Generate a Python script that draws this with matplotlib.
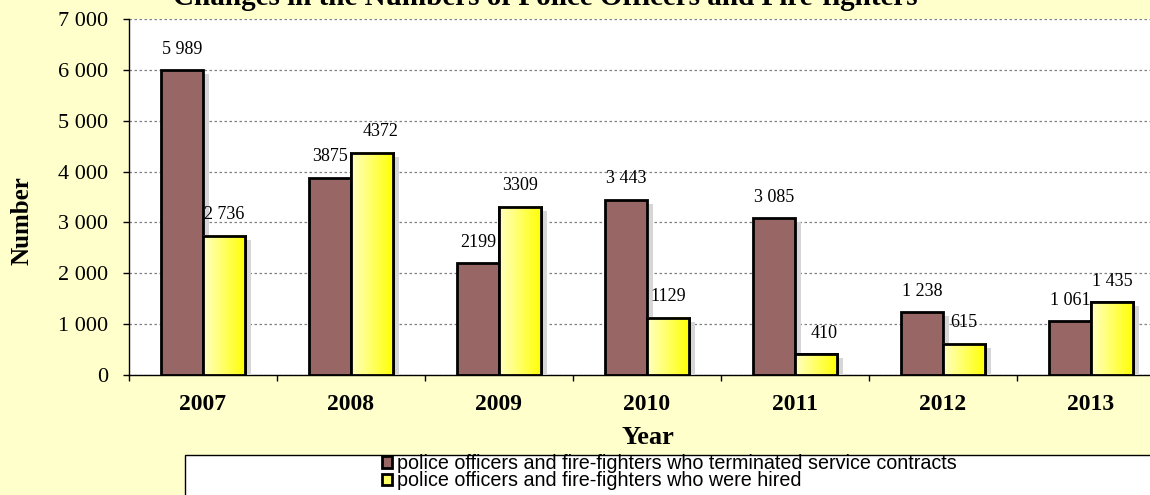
import matplotlib
matplotlib.use('Agg')
import matplotlib.pyplot as plt
import matplotlib.patheffects as pe
from matplotlib.patches import Rectangle, Patch
from matplotlib.colors import LinearSegmentedColormap
import numpy as np

# data
years = ['2007', '2008', '2009', '2010', '2011', '2012', '2013']
terminated = [5989, 3875, 2199, 3443, 3085, 1238, 1061]
hired = [2736, 4372, 3309, 1129, 410, 615, 1435]
terminated_labels = ['5 989', '3875', '2199', '3 443', '3 085', '1 238', '1 061']
hired_labels = ['2 736', '4372', '3309', '1129', '410', '615', '1 435']
series_names = ['police officers and fire-fighters who terminated service contracts',
                'police officers and fire-fighters who were hired']
y_ticks = [0, 1000, 2000, 3000, 4000, 5000, 6000, 7000]
y_tick_labels = ['0', '1 000', '2 000', '3 000', '4 000', '5 000', '6 000', '7 000']
title = 'Changes in the Numbers of Police Officers and Fire-fighters'

# a few labels sit a little right of their bar in the original
hired_dx = [0, 9, 0, 0, 8, 0, 0]

brown = '#996666'
bg = '#ffffcc'

plt.rcParams['font.family'] = ['Liberation Serif', 'DejaVu Serif']

W, H = 1150, 495
fig = plt.figure(figsize=(W / 100, H / 100), dpi=100, facecolor=bg)
ax = fig.add_axes([129 / W, 120 / H, 1036 / W, 356 / H])
ax.set_facecolor('white')

x = np.arange(len(years))
w = 0.284
shadow = [pe.SimplePatchShadow(offset=(4.3, -2.9), shadow_rgbFace='#d6d6d6', alpha=1.0),
          pe.Normal()]

b1 = ax.bar(x - w / 2, terminated, w, color=brown, edgecolor='black',
            linewidth=2, zorder=3, path_effects=shadow)
b2 = ax.bar(x + w / 2, hired, w, color='#ffff00', edgecolor='black',
            linewidth=2, zorder=3, path_effects=shadow)

# yellow bars have a left-to-right gradient
grad = np.linspace(0, 1, 256).reshape(1, -1)
ycmap = LinearSegmentedColormap.from_list('yel', ['#ffffc4', '#ffff00'])
for bar in b2:
    x0 = bar.get_x()
    ax.imshow(grad, cmap=ycmap, aspect='auto', zorder=3.5,
              extent=[x0, x0 + bar.get_width(), 0, bar.get_height()])
ax.bar(x + w / 2, hired, w, fill=False, edgecolor='black', linewidth=2, zorder=4)

# value labels
for bar, lbl in zip(b1, terminated_labels):
    ax.annotate(lbl, (bar.get_x() + bar.get_width() / 2, bar.get_height()),
                xytext=(0, 21), textcoords='offset pixels',
                ha='center', va='center', fontsize=13, zorder=5)
for bar, lbl, dx in zip(b2, hired_labels, hired_dx):
    ax.annotate(lbl, (bar.get_x() + bar.get_width() / 2, bar.get_height()),
                xytext=(dx, 21), textcoords='offset pixels',
                ha='center', va='center', fontsize=13, zorder=5)

ax.set_xlim(-0.5, len(years) - 0.5)
ax.set_ylim(0, 7000)

# axes cosmetics
ax.set_axisbelow(True)
ax.yaxis.grid(True, linestyle=(0, (2, 2)), color='#808080', linewidth=0.9)
for s in ['top', 'right']:
    ax.spines[s].set_visible(False)
for s in ['left', 'bottom']:
    ax.spines[s].set_color('black')
    ax.spines[s].set_linewidth(1)

ax.set_yticks(y_ticks, y_tick_labels, fontsize=16)
ax.tick_params(axis='y', direction='out', length=4.3, width=1, pad=11)
ax.set_xticks(x, years, fontweight='bold', fontsize=17)
ax.set_xticks(np.arange(-0.5, len(years), 1), minor=True)
ax.tick_params(axis='x', which='major', length=0, pad=14)
ax.tick_params(axis='x', which='minor', direction='out', length=4.3, width=1)

fig.text(22 / W, 1 - 221 / H, 'Number', rotation=90, fontweight='bold',
         fontsize=18, ha='center', va='center')
fig.text(648 / W, 1 - 437 / H, 'Year', fontweight='bold', fontsize=19,
         ha='center', va='center')
fig.text(545 / W, 1 - 5 / H, title, fontweight='bold', fontsize=21,
         ha='center', va='baseline')

# legend box
fig.patches.append(Rectangle((185 / W, -0.05), 1, (H - 455) / H + 0.05,
                             transform=fig.transFigure, facecolor='white',
                             edgecolor='black', linewidth=1))
handles = [Patch(facecolor=brown, edgecolor='black', linewidth=2),
           Patch(facecolor='#ffff66', edgecolor='black', linewidth=2)]
fig.legend(handles, series_names, loc='upper left',
           bbox_to_anchor=(382 / W, 1 - 454 / H), frameon=False,
           prop={'family': 'Liberation Sans', 'size': 14.2},
           handlelength=0.5, handleheight=0.5, handletextpad=0.25,
           labelspacing=-0.08, borderpad=0, borderaxespad=0)

fig.savefig('out.png', dpi=100, facecolor=fig.get_facecolor())
